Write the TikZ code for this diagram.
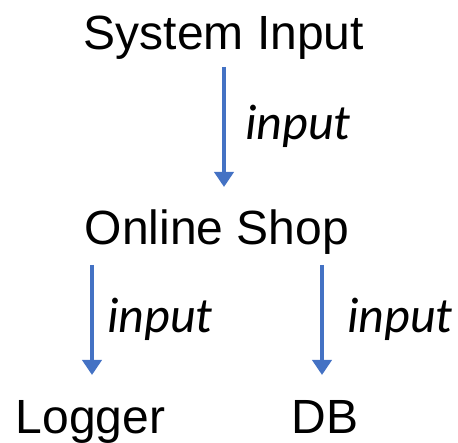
\documentclass[tikz,border=0pt]{standalone}
\usepackage{fontspec}
\setmainfont{Liberation Sans}
\newfontfamily\labelfont{Carlito}
\usetikzlibrary{arrows.meta}
\definecolor{flowblue}{RGB}{68,114,196}
\tikzset{
  x=1pt, y=1pt,
  part/.style={anchor=base, inner sep=0pt, font=\fontsize{48}{52}\selectfont},
  flowlabel/.style={anchor=base west, inner sep=0pt, font=\labelfont\itshape\fontsize{50}{54}\selectfont},
  flow/.style={draw=flowblue, line width=4.5pt, -{Triangle[width=19pt,length=15pt]}, flowblue}
}
\begin{document}
\begin{tikzpicture}
\useasboundingbox (0,0) rectangle (458,442);
% components
\node[part] (sys)  at (224,392.5) {System Input};
\node[part] (shop) at (217,197)   {Online Shop};
\node[part] (log)  at (90.5,9)    {Logger};
\node[part] (db)   at (325,9)     {DB};
% arrow ends
\coordinate (s1) at (224,375);
\coordinate (e1) at (224,255);
\coordinate (s2) at (92,177);
\coordinate (e2) at (92,67);
\coordinate (s3) at (322,177);
\coordinate (e3) at (322,67);
% data flows
\draw[flow] (s1) -- (e1);
\draw[flow] (s2) -- (e2);
\draw[flow] (s3) -- (e3);
\node[flowlabel] (l1) at (245,302) {input};
\node[flowlabel] (l2) at (107,109) {input};
\node[flowlabel] (l3) at (347,109) {input};
\end{tikzpicture}
\end{document}
